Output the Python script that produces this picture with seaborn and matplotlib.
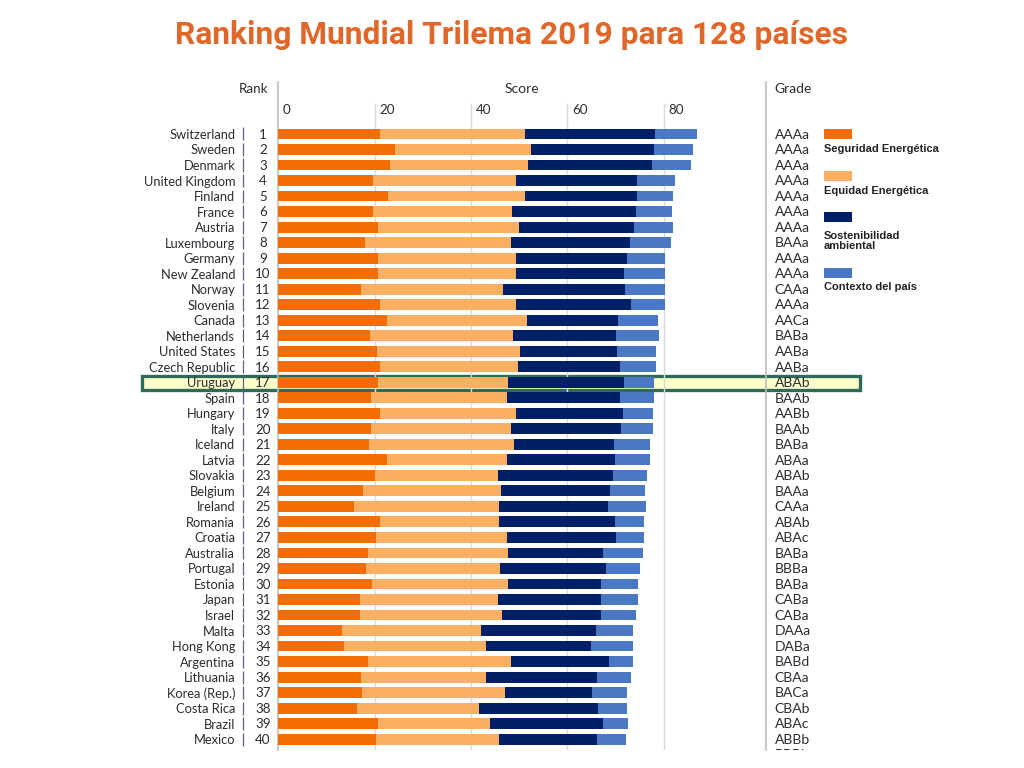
import pandas as pd
import seaborn as sns
import matplotlib.pyplot as plt
from matplotlib.patches import Rectangle

countries = ['Switzerland', 'Sweden', 'Denmark', 'United Kingdom', 'Finland', 'France', 'Austria', 'Luxembourg',
             'Germany', 'New Zealand', 'Norway', 'Slovenia', 'Canada', 'Netherlands', 'United States', 'Czech Republic',
             'Uruguay', 'Spain', 'Hungary', 'Italy', 'Iceland', 'Latvia', 'Slovakia', 'Belgium', 'Ireland', 'Romania',
             'Croatia', 'Australia', 'Portugal', 'Estonia', 'Japan', 'Israel', 'Malta', 'Hong Kong', 'Argentina',
             'Lithuania', 'Korea (Rep.)', 'Costa Rica', 'Brazil', 'Mexico']

grades = ['AAAa', 'AAAa', 'AAAa', 'AAAa', 'AAAa', 'AAAa', 'AAAa', 'BAAa', 'AAAa', 'AAAa', 'CAAa', 'AAAa', 'AACa',
          'BABa', 'AABa', 'AABa', 'ABAb', 'BAAb', 'AABb', 'BAAb', 'BABa', 'ABAa', 'ABAb', 'BAAa', 'CAAa', 'ABAb',
          'ABAc', 'BABa', 'BBBa', 'BABa', 'CABa', 'CABa', 'DAAa', 'DABa', 'BABd', 'CBAa', 'BACa', 'CBAb', 'ABAc',
          'ABBb']

seguridad = [21.1, 24.3, 23.2, 19.7, 22.8, 19.7, 20.7, 18.0, 20.7, 20.7, 17.2, 21.1, 22.6, 19.1, 20.5, 21.1, 20.7,
             19.3, 21.1, 19.3, 18.9, 22.6, 20.1, 17.6, 15.8, 21.1, 20.3, 18.7, 18.3, 19.5, 17.0, 17.0, 13.3, 13.7,
             18.7, 17.2, 17.4, 16.4, 20.7, 20.3]
equidad = [30.1, 28.2, 28.6, 29.7, 28.4, 28.8, 29.3, 30.3, 28.6, 28.6, 29.5, 28.2, 29.0, 29.7, 29.7, 28.6, 27.0,
           28.2, 28.2, 29.0, 30.1, 24.9, 25.5, 28.6, 29.9, 24.7, 27.2, 29.0, 27.8, 28.2, 28.6, 29.5, 28.8, 29.5,
           29.5, 25.9, 29.7, 25.3, 23.2, 25.5]
sostenibilidad = [27.0, 25.5, 25.7, 25.1, 23.2, 25.7, 23.9, 24.7, 23.0, 22.4, 25.3, 23.9, 18.9, 21.2, 20.1, 21.2,
                  24.1, 23.4, 22.2, 22.8, 20.7, 22.4, 23.9, 22.6, 22.8, 24.1, 22.6, 19.7, 21.8, 19.3, 21.4, 20.5,
                  23.9, 21.6, 20.5, 23.0, 18.0, 24.7, 23.4, 20.3]
contexto = [8.7, 8.1, 8.1, 7.9, 7.5, 7.5, 7.9, 8.5, 7.9, 8.5, 8.3, 7.1, 8.3, 8.9, 8.1, 7.5, 6.2, 7.1, 6.2, 6.6, 7.5,
            7.3, 7.1, 7.3, 7.7, 6.0, 5.8, 8.3, 7.1, 7.7, 7.7, 7.3, 7.7, 8.7, 4.8, 7.1, 7.3, 6.0, 5.2, 6.0]

score_ticks = [0, 20, 40, 60, 80]
legend_labels = ['Seguridad Energética', 'Equidad Energética', 'Sostenibilidad\nambiental', 'Contexto del país']
colors = ['#F46D00', '#FAAF62', '#001F66', '#4A78C4']

df = pd.DataFrame({'Country': countries, 'seg': seguridad, 'equ': equidad, 'sos': sostenibilidad, 'con': contexto})
df['end1'] = df['seg']
df['end2'] = df['end1'] + df['equ']
df['end3'] = df['end2'] + df['sos']
df['end4'] = df['end3'] + df['con']

sns.set_theme(style='white')
plt.rcParams['font.family'] = ['Lato', 'DejaVu Sans']
text_color = '#2b2b33'

fig = plt.figure(figsize=(10.24, 7.68), dpi=100)
ax = fig.add_axes([278.3 / 1024, 1 - 750 / 768, (766 - 278.3) / 1024, (750 - 82) / 768])

# stacked bars: draw the cumulative totals, longest first
for col, c in zip(['end4', 'end3', 'end2', 'end1'], colors[::-1]):
    sns.barplot(data=df, y='Country', x=col, color=c, orient='h', width=0.7, saturation=1, ax=ax, zorder=3,
                edgecolor='none', linewidth=0)

ax.set_xlim(0, 101.2)
ax.set_ylim(39.7, -3.35)
ax.set_xlabel('')
ax.set_ylabel('')
ax.set_xticks([])
ax.set_axisbelow(False)
ax.tick_params(axis='y', length=0, pad=31, labelsize=9.3, labelcolor=text_color)
for s in ['top', 'bottom']:
    ax.spines[s].set_visible(False)
for s in ['left', 'right']:
    ax.spines[s].set_color('#bdbdbd')
    ax.spines[s].set_linewidth(1.2)

ax.vlines(score_ticks[1:], -2, 39.7, color='#dadada', lw=1, zorder=2)
for v in score_ticks:
    ax.text(v + 0.9, -1.55, str(v), fontsize=9.6, color=text_color, ha='left', va='center')

# Uruguay highlight band
hl = countries.index('Uruguay')
ax.add_patch(Rectangle((-28.3, hl - 0.4), 149, 0.9, facecolor='#FFFFCC', edgecolor='#2F6B5B', lw=2.4,
                       clip_on=False, zorder=1))

for i, g in enumerate(grades):
    ax.vlines(-7.3, i - 0.42, i + 0.42, color='#6a5a8e', lw=0.9, clip_on=False, zorder=2)
    ax.text(-3.2, i + 0.05, str(i + 1), fontsize=9.6, color=text_color, ha='center', va='center', clip_on=False)
    ax.text(103, i + 0.05, g, fontsize=10, color=text_color, ha='left', va='center', clip_on=False)

# next row peeks out under the cut
cut = ax.text(103, 40, 'BBBb', fontsize=10, color=text_color, ha='left', va='center', clip_on=True)
cut.set_clip_path(Rectangle((100, 39), 20, 0.72, transform=ax.transData))

fig.text(511 / 1024, 1 - 35 / 768, 'Ranking Mundial Trilema 2019 para 128 países', fontsize=22.9, fontweight='bold',
         color='#E0672A', ha='center', va='center', family=['Roboto', 'DejaVu Sans'])
fig.text(254 / 1024, 1 - 89 / 768, 'Rank', fontsize=9.6, color=text_color, ha='center', va='center')
fig.text(522 / 1024, 1 - 89 / 768, 'Score', fontsize=10, color=text_color, ha='center', va='center')
fig.text(793 / 1024, 1 - 89 / 768, 'Grade', fontsize=10, color=text_color, ha='center', va='center')

# hand placed legend on the right
patch_tops = [129, 171, 212, 267.5]
text_y = [148.5, 190.5, 241, 286.5]
for top, ty, c, lab in zip(patch_tops, text_y, colors, legend_labels):
    fig.add_artist(Rectangle((824.3 / 1024, 1 - (top + 10) / 768), 27.3 / 1024, 10 / 768, facecolor=c, edgecolor='none',
                             transform=fig.transFigure))
    fig.text(824 / 1024, 1 - ty / 768, lab, fontsize=8.05, fontweight='bold', color='#222222', ha='left', va='center',
             family=['Liberation Sans', 'DejaVu Sans'], linespacing=0.95)

plt.savefig('out.png', dpi=100)
